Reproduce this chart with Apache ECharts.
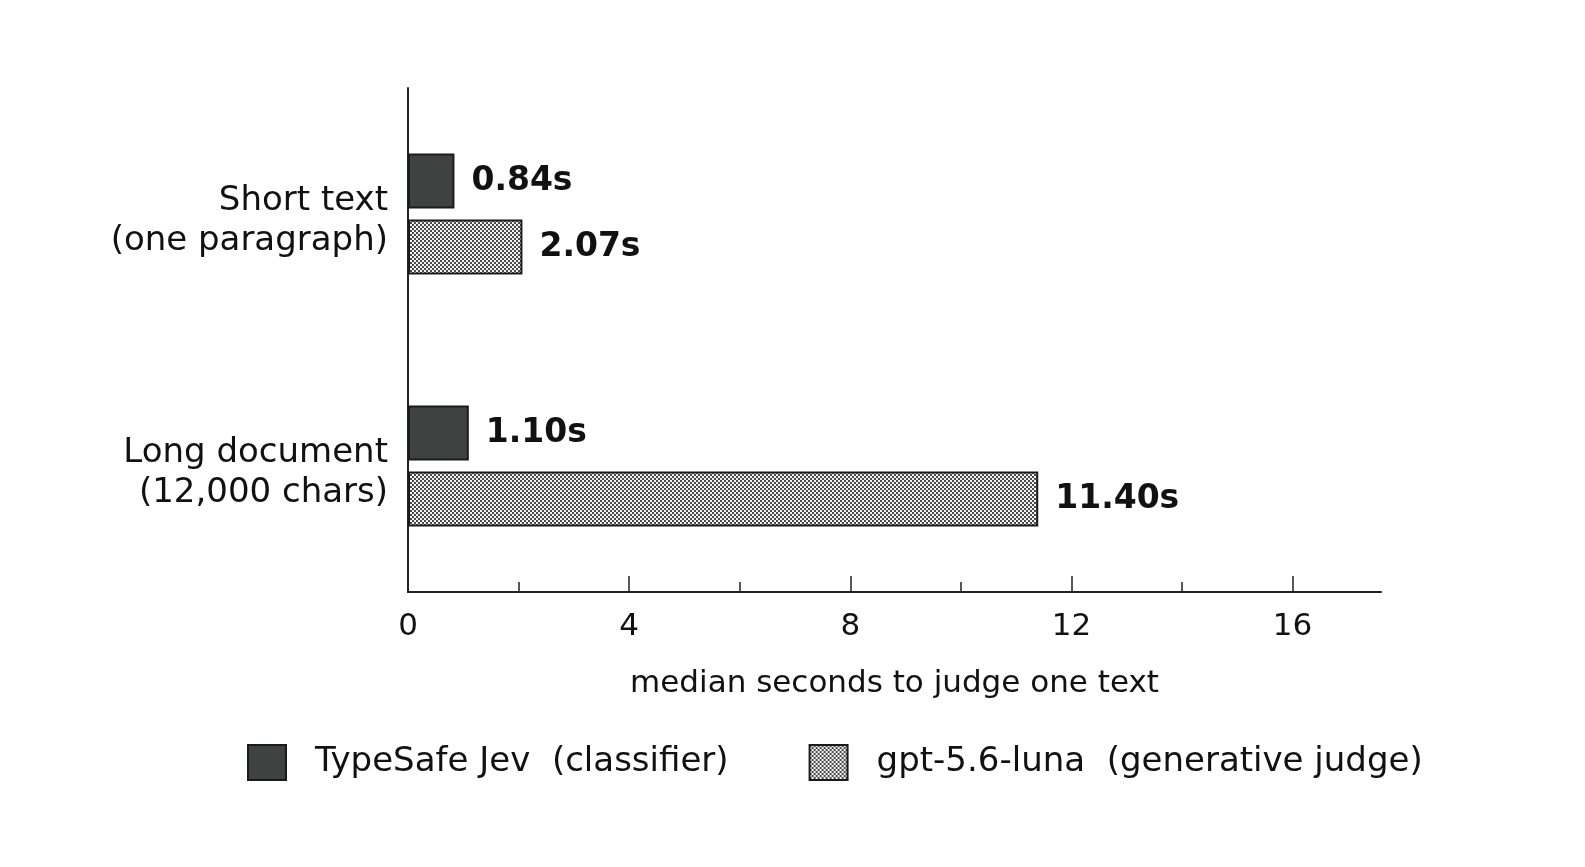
<!DOCTYPE html>
<html>
<head>
<meta charset="utf-8">
<script src="https://cdn.jsdelivr.net/npm/echarts@6/dist/echarts.min.js"></script>
<style>
  html, body { margin: 0; padding: 0; background: #fff; }
  #chart { width: 1585px; height: 867px; }
</style>
</head>
<body>
<div id="chart"></div>
<script>
// data
var categories = ['Short text\n(one paragraph)', 'Long document\n(12,000 chars)'];
var seriesNames = ['TypeSafe Jev  (classifier)', 'gpt-5.6-luna  (generative judge)'];
var classifierSecs = [0.84, 1.10];
var generativeSecs = [2.07, 11.40];
var majorTicks = [0, 4, 8, 12, 16];
var minorTicks = [2, 6, 10, 14];

// small checker tile for the hatched bars
function checker() {
  var c = document.createElement('canvas');
  c.width = 4; c.height = 4;
  var ctx = c.getContext('2d');
  ctx.fillStyle = '#f2f2f2';
  ctx.fillRect(0, 0, 4, 4);
  ctx.fillStyle = '#4a4a4a';
  ctx.fillRect(0, 0, 2, 2);
  ctx.fillRect(2, 2, 2, 2);
  return c;
}

var chart = echarts.init(document.getElementById('chart'));
var font = 'DejaVu Sans';
var ink = '#111';

var label = {
  show: true,
  position: 'right',
  distance: 17,
  fontFamily: font,
  fontWeight: 'bold',
  fontSize: 33,
  color: ink,
  formatter: function (p) { return p.value.toFixed(2) + 's'; }
};

chart.setOption({
  animation: false,
  grid: { left: 408, right: 204, top: 88, bottom: 275 },
  legend: {
    left: 242,
    top: 739,
    icon: 'rect',
    itemWidth: 38,
    itemHeight: 35,
    itemGap: 80,
    textStyle: { fontFamily: font, fontSize: 34, color: ink, padding: [0, 0, 0, 24] },
    data: seriesNames
  },
  xAxis: [{
    type: 'value',
    min: 0,
    max: 17.6,
    interval: 2,
    name: 'median seconds to judge one text',
    nameLocation: 'middle',
    nameGap: 76,
    nameTextStyle: { fontFamily: font, fontSize: 31, color: ink },
    axisLine: { show: true, lineStyle: { color: '#222', width: 2 } },
    axisTick: { show: true, inside: true, length: 16, customValues: majorTicks.slice(1), lineStyle: { color: '#222', width: 1.5 } },
    axisLabel: { customValues: majorTicks, margin: 19, fontFamily: font, fontSize: 31, color: ink },
    splitLine: { show: false }
  }, {
    type: 'value',
    min: 0,
    max: 17.6,
    position: 'bottom',
    axisLine: { show: false },
    axisTick: { show: true, inside: true, length: 10, customValues: minorTicks, lineStyle: { color: '#222', width: 1.5 } },
    axisLabel: { show: false },
    splitLine: { show: false }
  }],
  yAxis: {
    type: 'category',
    inverse: true,
    data: categories,
    axisLine: { show: true, lineStyle: { color: '#222', width: 2 } },
    axisTick: { show: false },
    axisLabel: {
      margin: 20,
      align: 'right',
      // an empty short first line nudges the two text lines down a bit
      formatter: function (v) {
        return '{s| }\n' + v.split('\n').map(function (l) { return '{t|' + l + '}'; }).join('\n');
      },
      rich: {
        s: { fontSize: 4, lineHeight: 14 },
        t: { fontFamily: font, fontSize: 34, lineHeight: 40, color: ink, align: 'right' }
      }
    }
  },
  series: [{
    name: seriesNames[0],
    type: 'bar',
    data: classifierSecs,
    barWidth: 55,
    barGap: '20%',
    itemStyle: { color: '#404242', borderColor: '#1a1a1a', borderWidth: 2 },
    label: label
  }, {
    name: seriesNames[1],
    type: 'bar',
    data: generativeSecs,
    barWidth: 55,
    itemStyle: { color: { image: checker(), repeat: 'repeat' }, borderColor: '#1a1a1a', borderWidth: 2 },
    label: label
  }]
});
</script>
</body>
</html>
